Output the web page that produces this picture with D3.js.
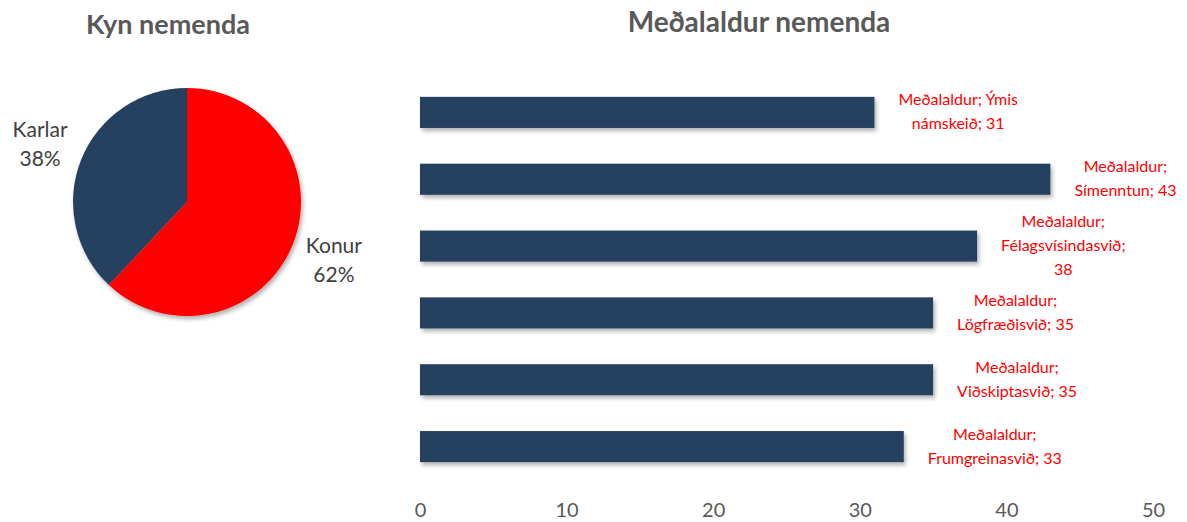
<!DOCTYPE html>
<html>
<head>
<meta charset="utf-8">
<script src="https://cdn.jsdelivr.net/npm/d3@7"></script>
<style>
  body { margin: 0; background: #fff; }
  svg { font-family: Lato, "Open Sans", sans-serif; }
</style>
</head>
<body>
<svg id="chart" width="1187" height="522"></svg>
<script>
// pie data
const genders = ["Karlar", "Konur"];
const genderShare = [38, 62];

// bar data
const fields = ["Ýmis námskeið", "Símenntun", "Félagsvísindasvið", "Lögfræðisvið", "Viðskiptasvið", "Frumgreinasvið"];
const avgAge = [31, 43, 38, 35, 35, 33];
const ageTicks = [0, 10, 20, 30, 40, 50];

// label lines as they wrap in the original
const barLabelLines = [
    ["Meðalaldur; Ýmis", "námskeið; 31"],
    ["Meðalaldur;", "Símenntun; 43"],
    ["Meðalaldur;", "Félagsvísindasvið;", "38"],
    ["Meðalaldur;", "Lögfræðisvið; 35"],
    ["Meðalaldur;", "Viðskiptasvið; 35"],
    ["Meðalaldur;", "Frumgreinasvið; 33"]
];

const navy = "#27405f", red = "#ff0000", grey = "#595959";

const svg = d3.select("#chart");

const defs = svg.append("defs");
const shadow = defs.append("filter").attr("id", "shadow")
        .attr("x", "-10%").attr("y", "-10%").attr("width", "130%").attr("height", "140%");
shadow.append("feDropShadow")
        .attr("dx", 2).attr("dy", 3).attr("stdDeviation", 2)
        .attr("flood-color", "#000").attr("flood-opacity", 0.3);

// ---- pie ----
svg.append("text")
        .attr("x", 168).attr("y", 34)
        .attr("text-anchor", "middle")
        .style("font-size", "27px").style("font-weight", "bold")
        .style("fill", grey)
        .text("Kyn nemenda");

const pieData = genders.map((g, i) => ({name: g, value: genderShare[i]}));
const pie = d3.pie().value(d => d.value);  // default sort puts Konur first, at 12 o'clock
const arc = d3.arc().innerRadius(0).outerRadius(114);
const labelArc = d3.arc().innerRadius(158).outerRadius(158);

const pieG = svg.append("g").attr("transform", "translate(187,202)");

pieG.selectAll(".slice")
        .data(pie(pieData))
        .enter().append("path")
        .attr("class", "slice")
        .attr("d", arc)
        .attr("filter", "url(#shadow)")
        .style("fill", d => d.data.name === "Konur" ? red : navy);

const pieLabels = pieG.selectAll(".pieLabel")
        .data(pie(pieData))
        .enter().append("text")
        .attr("class", "pieLabel")
        .attr("transform", d => "translate(" + labelArc.centroid(d) + ")")
        .attr("text-anchor", "middle")
        .style("font-size", "21px")
        .style("fill", "#404040");

pieLabels.append("tspan").attr("x", 0).attr("y", -7).text(d => d.data.name);
pieLabels.append("tspan").attr("x", 0).attr("y", 22).text(d => d.data.value + "%");

// ---- bars ----
svg.append("text")
        .attr("x", 759).attr("y", 32)
        .attr("text-anchor", "middle")
        .style("font-size", "28px").style("font-weight", "bold")
        .style("fill", grey)
        .text("Meðalaldur nemenda");

const x = d3.scaleLinear().domain([0, 50]).range([420, 1153]);
const y = d3.scaleBand().domain(fields).range([79, 480])
        .paddingInner(0.535).paddingOuter(0.2675);

svg.selectAll(".bar")
        .data(fields)
        .enter().append("rect")
        .attr("class", "bar")
        .attr("x", x(0))
        .attr("y", d => y(d))
        .attr("width", (d, i) => x(avgAge[i]) - x(0))
        .attr("height", y.bandwidth())
        .attr("filter", "url(#shadow)")
        .style("fill", navy);

const lineH = 24;
const barLabels = svg.selectAll(".barLabel")
        .data(fields)
        .enter().append("text")
        .attr("class", "barLabel")
        .attr("text-anchor", "middle")
        .style("font-size", "16px")
        .style("fill", red);

barLabels.each(function (d, i) {
    const t = d3.select(this);
    const lines = barLabelLines[i];
    const cy = y(d) + y.bandwidth() / 2;
    const top = cy - (lines.length - 1) * lineH / 2;
    lines.forEach((ln, j) => {
        t.append("tspan").attr("y", top + j * lineH + 5).text(ln);
    });
    let w = 0;
    t.selectAll("tspan").each(function () { w = Math.max(w, this.getComputedTextLength()); });
    t.selectAll("tspan").attr("x", x(avgAge[i]) + 24 + w / 2);
});

const xAxis = d3.axisBottom(x).tickValues(ageTicks).tickSize(0).tickPadding(0);
const axG = svg.append("g").attr("transform", "translate(0,503)").call(xAxis);
axG.select(".domain").remove();
axG.selectAll("text")
        .style("font-family", "Lato, sans-serif")
        .style("font-size", "20px")
        .style("fill", grey);
</script>
</body>
</html>
